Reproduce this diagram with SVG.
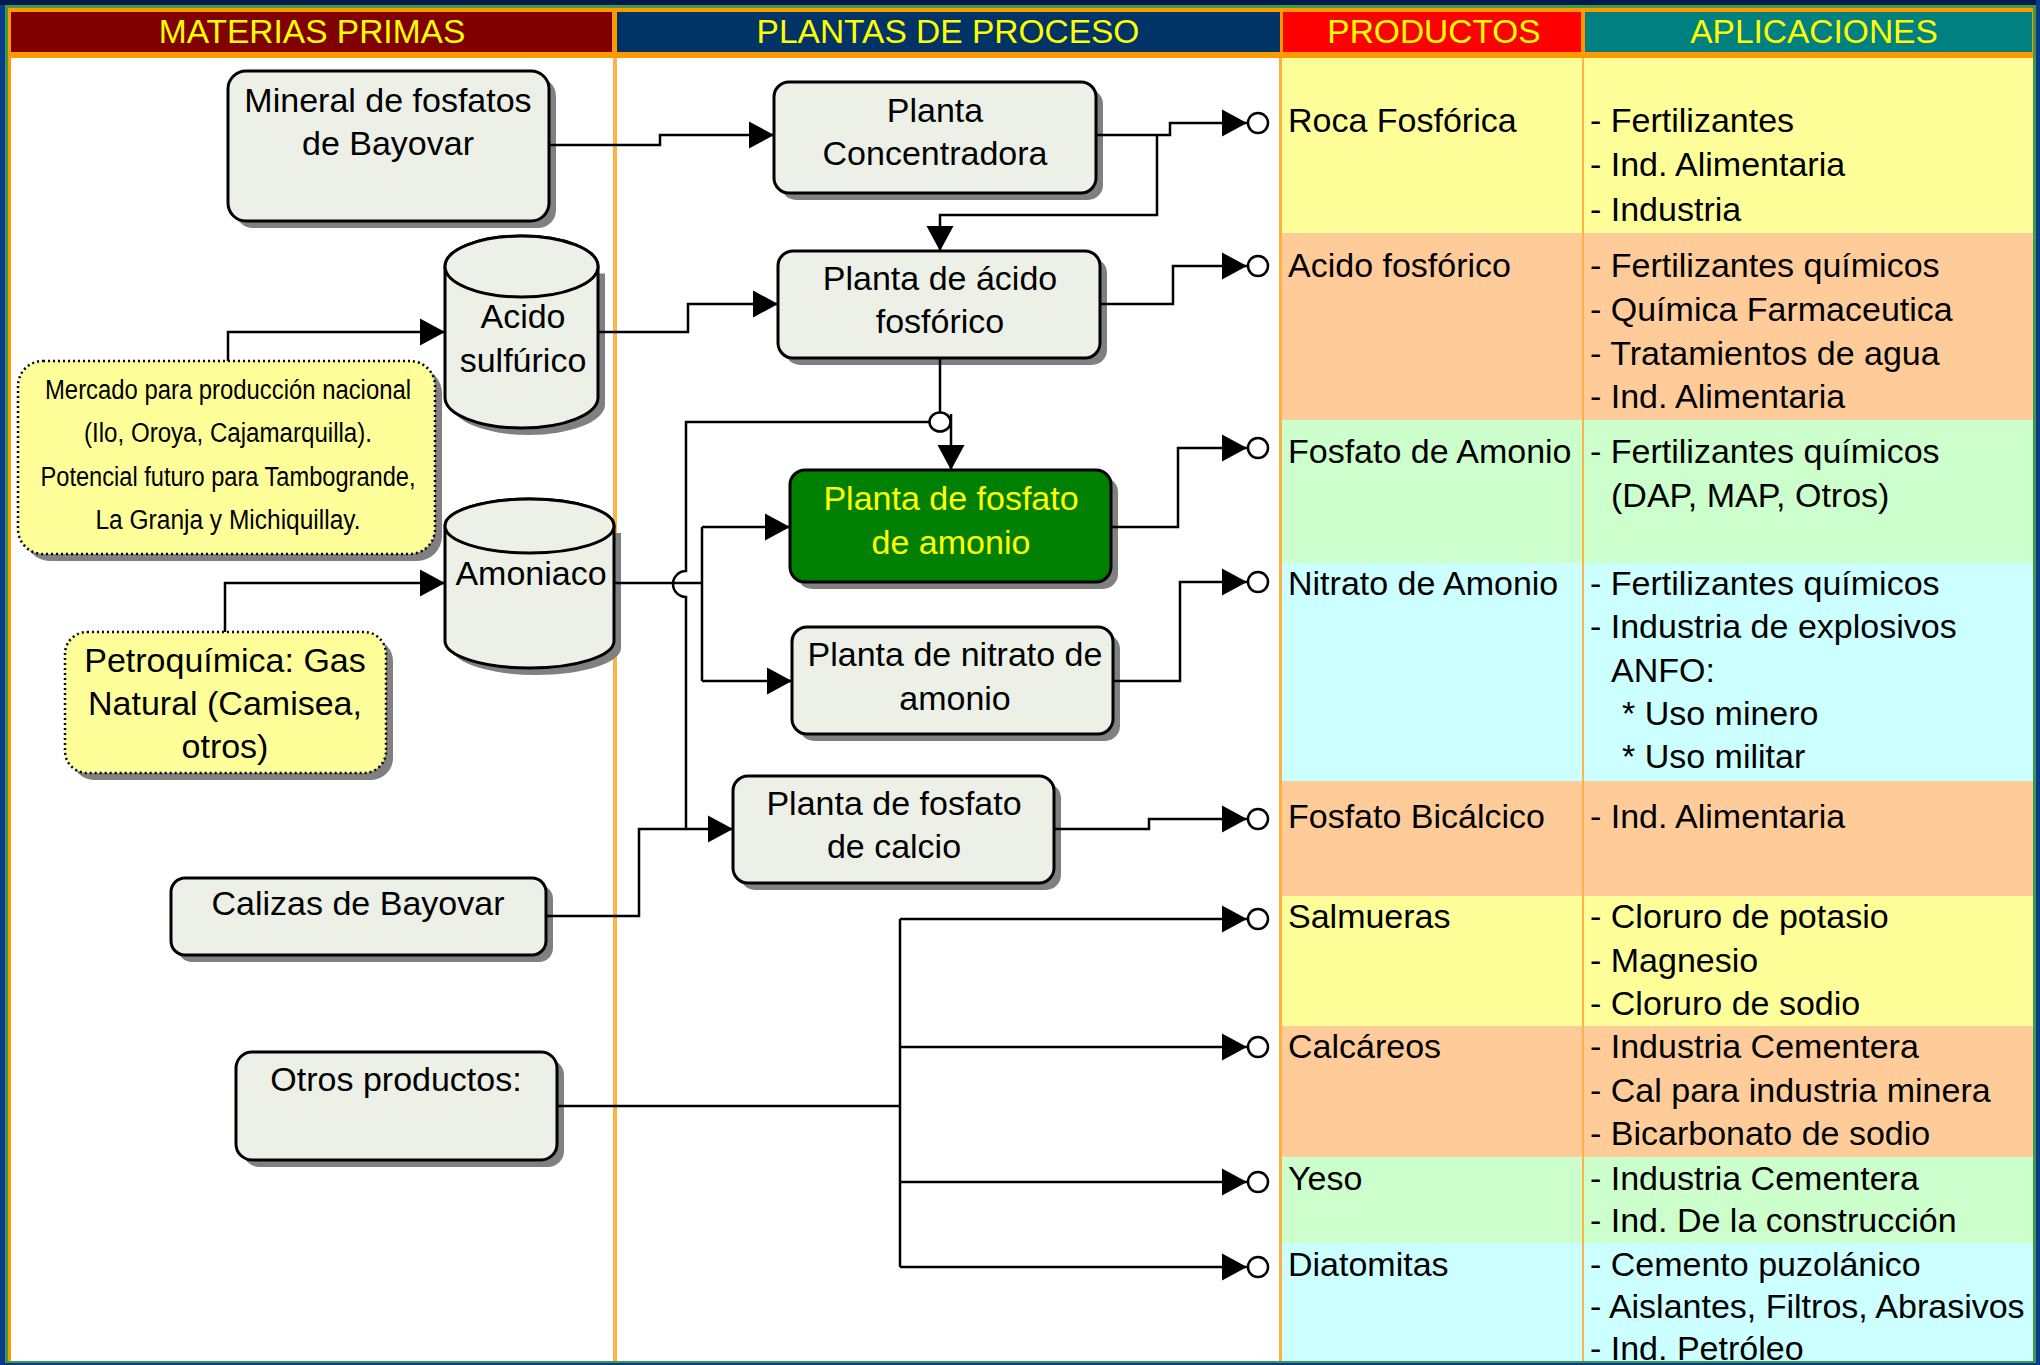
<svg xmlns="http://www.w3.org/2000/svg" width="2040" height="1365" viewBox="0 0 2040 1365">
<defs>
<style>
.t{font-family:"Liberation Sans",Arial,sans-serif;font-size:34px;fill:#000}
.c{text-anchor:middle}
.h{font-family:"Liberation Sans",Arial,sans-serif;font-size:33.5px;fill:#FFFF00;text-anchor:middle}
.g{font-family:"Liberation Sans",Arial,sans-serif;font-size:34px;fill:#FFFF00;text-anchor:middle}
.n{font-family:"Liberation Sans",Arial,sans-serif;font-size:27px;fill:#000;text-anchor:middle}
.box{fill:#EDF0E7;stroke:#000;stroke-width:3}
.sh{fill:#808080}
.dot{fill:#FFFF99;stroke:#000;stroke-width:2.5;stroke-dasharray:2 3}
.ln{fill:none;stroke:#000;stroke-width:2.5}
.arr{marker-end:url(#a)}
.arc{marker-end:url(#ac)}
</style>
<marker id="a" markerUnits="userSpaceOnUse" markerWidth="26" markerHeight="28" refX="25" refY="13.5" orient="auto" overflow="visible"><path d="M0,0 L25,13.5 L0,27 Z" fill="#000"/></marker>
<marker id="ac" markerUnits="userSpaceOnUse" markerWidth="50" markerHeight="28" refX="25" refY="13.5" orient="auto" overflow="visible"><path d="M0,0 L25,13.5 L0,27 Z" fill="#000"/><circle cx="36" cy="13.5" r="10" fill="#fff" stroke="#000" stroke-width="2.5"/></marker>
</defs>

<!-- frame -->
<rect x="0" y="0" width="2040" height="1365" fill="#0A3A8C"/>
<rect x="0" y="0" width="2040" height="5" fill="#001A4D"/>
<rect x="5" y="5" width="2031" height="1358" fill="#3A9A4A"/>
<rect x="8" y="8" width="2025" height="1353" fill="#FFFFFF"/>
<rect x="8" y="8" width="2025" height="50" fill="#FF9900"/>
<rect x="8" y="8" width="3" height="1353" fill="#FF9900"/>

<!-- header -->
<g id="header">
<rect x="11" y="12" width="601" height="40" fill="#800000"/>
<rect x="617" y="12" width="663" height="40" fill="#003366"/>
<rect x="1283" y="12" width="298" height="40" fill="#FF0000"/>
<rect x="1585" y="12" width="447" height="40" fill="#008080"/>
<text class="h" x="312" y="43">MATERIAS PRIMAS</text>
<text class="h" x="948" y="43">PLANTAS DE PROCESO</text>
<text class="h" x="1434" y="43">PRODUCTOS</text>
<text class="h" x="1814" y="43">APLICACIONES</text>
</g>

<!-- rows -->
<g id="rows">
<rect x="1281" y="58" width="752" height="175" fill="#FFFF99"/>
<rect x="1281" y="233" width="752" height="187" fill="#FFCC99"/>
<rect x="1281" y="420" width="752" height="143" fill="#CCFFCC"/>
<rect x="1281" y="563" width="752" height="218" fill="#CCFFFF"/>
<rect x="1281" y="781" width="752" height="115" fill="#FFCC99"/>
<rect x="1281" y="896" width="752" height="130" fill="#FFFF99"/>
<rect x="1281" y="1026" width="752" height="131" fill="#FFCC99"/>
<rect x="1281" y="1157" width="752" height="86" fill="#CCFFCC"/>
<rect x="1281" y="1243" width="752" height="118" fill="#CCFFFF"/>
<rect x="613" y="58" width="4" height="1303" fill="#FFB347"/>
<rect x="1279" y="58" width="3" height="1303" fill="#FFB040"/>
<rect x="1582" y="58" width="2" height="1303" fill="#FFB347"/>
</g>

<!-- products -->
<g id="productos" class="t">
<text x="1288" y="132">Roca Fosfórica</text>
<text x="1288" y="277">Acido fosfórico</text>
<text x="1288" y="463">Fosfato de Amonio</text>
<text x="1288" y="595">Nitrato de Amonio</text>
<text x="1288" y="828">Fosfato Bicálcico</text>
<text x="1288" y="928">Salmueras</text>
<text x="1288" y="1058">Calcáreos</text>
<text x="1288" y="1190">Yeso</text>
<text x="1288" y="1276">Diatomitas</text>
</g>

<!-- applications -->
<g id="aplicaciones" class="t">
<text x="1590" y="132">- Fertilizantes</text>
<text x="1590" y="176">- Ind. Alimentaria</text>
<text x="1590" y="221">- Industria</text>
<text x="1590" y="277">- Fertilizantes químicos</text>
<text x="1590" y="321">- Química Farmaceutica</text>
<text x="1590" y="365">- Tratamientos de agua</text>
<text x="1590" y="408">- Ind. Alimentaria</text>
<text x="1590" y="463">- Fertilizantes químicos</text>
<text x="1611" y="507">(DAP, MAP, Otros)</text>
<text x="1590" y="595">- Fertilizantes químicos</text>
<text x="1590" y="638">- Industria de explosivos</text>
<text x="1611" y="682">ANFO:</text>
<text x="1622" y="725">* Uso minero</text>
<text x="1622" y="768">* Uso militar</text>
<text x="1590" y="828">- Ind. Alimentaria</text>
<text x="1590" y="928">- Cloruro de potasio</text>
<text x="1590" y="972">- Magnesio</text>
<text x="1590" y="1015">- Cloruro de sodio</text>
<text x="1590" y="1058">- Industria Cementera</text>
<text x="1590" y="1102">- Cal para industria minera</text>
<text x="1590" y="1145">- Bicarbonato de sodio</text>
<text x="1590" y="1190">- Industria Cementera</text>
<text x="1590" y="1232">- Ind. De la construcción</text>
<text x="1590" y="1276">- Cemento puzolánico</text>
<text x="1590" y="1318">- Aislantes, Filtros, Abrasivos</text>
<text x="1590" y="1360">- Ind. Petróleo</text>
</g>

<!-- nodes -->
<g id="mineral">
<rect class="sh" x="235" y="78" width="321" height="150" rx="18"/>
<rect class="box" x="228" y="71" width="321" height="150" rx="18"/>
<text class="t c" x="388" y="112">Mineral de fosfatos</text>
<text class="t c" x="388" y="155">de Bayovar</text>
</g>
<g id="acido-sulfurico">
<path class="sh" d="M452,273.5 V404.5 A76.5,30.5 0 0 0 605,404.5 V273.5 Z"/>
<path class="box" d="M445,266.5 V397.5 A76.5,30.5 0 0 0 598,397.5 V266.5 A76.5,30.5 0 0 0 445,266.5 Z"/>
<ellipse class="box" cx="521.5" cy="266.5" rx="76.5" ry="30.5"/>
<text class="t c" x="523" y="328">Acido</text>
<text class="t c" x="523" y="372">sulfúrico</text>
</g>
<g id="mercado">
<rect class="sh" x="25" y="368" width="417" height="193" rx="25"/>
<rect class="dot" x="18" y="361" width="417" height="193" rx="25"/>
<text class="n" x="228" y="399" textLength="366" lengthAdjust="spacingAndGlyphs">Mercado para producción nacional</text>
<text class="n" x="228" y="442" textLength="288" lengthAdjust="spacingAndGlyphs">(Ilo, Oroya, Cajamarquilla).</text>
<text class="n" x="228" y="486" textLength="375" lengthAdjust="spacingAndGlyphs">Potencial futuro para Tambogrande,</text>
<text class="n" x="228" y="529" textLength="265" lengthAdjust="spacingAndGlyphs">La Granja y Michiquillay.</text>
</g>
<g id="amoniaco">
<path class="sh" d="M452,533 V648 A84.5,27 0 0 0 621,648 V533 Z"/>
<path class="box" d="M445,526 V641 A84.5,27 0 0 0 614,641 V526 A84.5,27 0 0 0 445,526 Z"/>
<ellipse class="box" cx="529.5" cy="526" rx="84.5" ry="27"/>
<text class="t c" x="531" y="585">Amoniaco</text>
</g>
<g id="petroquimica">
<rect class="sh" x="72" y="639" width="321" height="141" rx="22"/>
<rect class="dot" x="65" y="632" width="321" height="141" rx="22"/>
<text class="t c" x="225" y="672">Petroquímica: Gas</text>
<text class="t c" x="225" y="715">Natural (Camisea,</text>
<text class="t c" x="225" y="758">otros)</text>
</g>
<g id="calizas">
<rect class="sh" x="178" y="885" width="375" height="77" rx="14"/>
<rect class="box" x="171" y="878" width="375" height="77" rx="14"/>
<text class="t c" x="358" y="915">Calizas de Bayovar</text>
</g>
<g id="otros">
<rect class="sh" x="243" y="1059" width="321" height="108" rx="16"/>
<rect class="box" x="236" y="1052" width="321" height="108" rx="16"/>
<text class="t c" x="396" y="1091">Otros productos:</text>
</g>
<g id="concentradora">
<rect class="sh" x="781" y="89" width="322" height="111" rx="15"/>
<rect class="box" x="774" y="82" width="322" height="111" rx="15"/>
<text class="t c" x="935" y="122">Planta</text>
<text class="t c" x="935" y="165">Concentradora</text>
</g>
<g id="planta-acido">
<rect class="sh" x="785" y="258" width="322" height="107" rx="15"/>
<rect class="box" x="778" y="251" width="322" height="107" rx="15"/>
<text class="t c" x="940" y="290">Planta de ácido</text>
<text class="t c" x="940" y="333">fosfórico</text>
</g>
<g id="planta-fosfato-amonio">
<rect class="sh" x="797" y="477" width="321" height="112" rx="15"/>
<rect x="790" y="470" width="321" height="112" rx="15" fill="#008000" stroke="#000" stroke-width="3"/>
<text class="g" x="951" y="510">Planta de fosfato</text>
<text class="g" x="951" y="554">de amonio</text>
</g>
<g id="planta-nitrato">
<rect class="sh" x="799" y="634" width="321" height="107" rx="15"/>
<rect class="box" x="792" y="627" width="321" height="107" rx="15"/>
<text class="t c" x="955" y="666">Planta de nitrato de</text>
<text class="t c" x="955" y="710">amonio</text>
</g>
<g id="planta-calcio">
<rect class="sh" x="740" y="783" width="321" height="107" rx="15"/>
<rect class="box" x="733" y="776" width="321" height="107" rx="15"/>
<text class="t c" x="894" y="815">Planta de fosfato</text>
<text class="t c" x="894" y="858">de calcio</text>
</g>

<!-- connectors -->
<g id="connectors">
<path class="ln arr" d="M549,145 H660 V135 H774"/>
<path class="ln arc" d="M1096,135 H1170 V123 H1247"/>
<path class="ln arr" d="M1157,135 V215 H940 V251"/>
<path class="ln arr" d="M228,361 V332 H445"/>
<path class="ln arr" d="M598,332 H688 V304 H778"/>
<path class="ln arc" d="M1100,304 H1173 V266 H1247"/>
<path class="ln" d="M940,358 V412"/>
<path class="ln arr" d="M951,414 V470"/>
<path class="ln" d="M929.5,422 H686 V571 A13,13 0 0 0 686,597 V829"/>
<ellipse cx="940" cy="422" rx="10.5" ry="9.5" fill="#fff" stroke="#000" stroke-width="2.5"/>
<path class="ln" d="M614,583 H702"/>
<path class="ln" d="M702,527 V681"/>
<path class="ln arr" d="M702,527 H790"/>
<path class="ln arr" d="M702,681 H792"/>
<path class="ln arr" d="M225,632 V583 H445"/>
<path class="ln arc" d="M1111,527 H1178 V448 H1247"/>
<path class="ln arc" d="M1113,681 H1180 V582 H1247"/>
<path class="ln arr" d="M546,916 H639 V829 H733"/>
<path class="ln arc" d="M1054,829 H1149 V819 H1247"/>
<path class="ln" d="M557,1106 H900"/>
<path class="ln" d="M900,919 V1267"/>
<path class="ln arc" d="M900,919 H1247"/>
<path class="ln arc" d="M900,1047 H1247"/>
<path class="ln arc" d="M900,1182 H1247"/>
<path class="ln arc" d="M900,1267 H1247"/>
</g>

<!-- bottom/right frame over clipped text -->
<rect x="5" y="1361" width="2031" height="2" fill="#3A9A4A"/>
<rect x="0" y="1363" width="2040" height="2" fill="#0A3A8C"/>
<rect x="2033" y="5" width="3" height="1358" fill="#3A9A4A"/>
<rect x="2036" y="0" width="4" height="1365" fill="#0A3A8C"/>
</svg>
